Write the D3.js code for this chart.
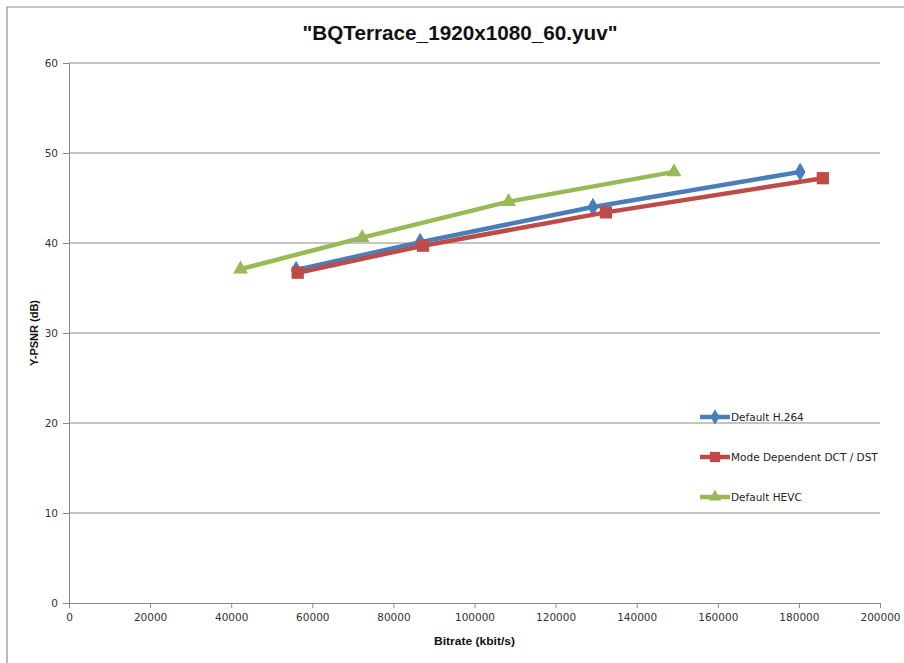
<!DOCTYPE html>
<html>
<head>
<meta charset="utf-8">
<script src="https://cdn.jsdelivr.net/npm/d3@7"></script>
<style>
  body { margin: 0; background: #fff; }
  svg { display: block; }
</style>
</head>
<body>
<svg id="chart"></svg>
<script>
// bitrate (kbit/s) and Y-PSNR (dB)
const h264Rate = [56000, 86600, 129200, 180300];
const h264Psnr = [37.0, 40.1, 44.0, 47.9];
const mddtRate = [56400, 87300, 132400, 185900];
const mddtPsnr = [36.7, 39.7, 43.4, 47.2];
const hevcRate = [42300, 72300, 108400, 149200];
const hevcPsnr = [37.1, 40.6, 44.6, 47.9];
const seriesNames = ['Default H.264', 'Mode Dependent DCT / DST', 'Default HEVC'];
const xTicks = [0, 20000, 40000, 60000, 80000, 100000, 120000, 140000, 160000, 180000, 200000];
const yTicks = [0, 10, 20, 30, 40, 50, 60];

const width = 904, height = 663;
const margin = { top: 63, right: 24, bottom: 60, left: 69 };

const svg = d3.select('#chart').attr('width', width).attr('height', height);

// outer chart frame (cropped on right/bottom in the original)
svg.append('path')
    .attr('d', `M7,${height} V7 H${width}`)
    .attr('fill', 'none')
    .attr('stroke', '#8c8c8c')
    .attr('stroke-width', 1.2);

const x = d3.scaleLinear().domain([0, 200000]).range([margin.left, width - margin.right]);
const y = d3.scaleLinear().domain([0, 60]).range([height - margin.bottom, margin.top]);

const gridColor = '#8a8a8a';
const tickFont = '"DejaVu Sans", Verdana, sans-serif';
const labelFont = '"Liberation Sans Narrow", "Arial Narrow", "Liberation Sans", sans-serif';

// horizontal gridlines
svg.append('g')
    .selectAll('line')
    .data(yTicks.filter(d => d > 0))
    .enter().append('line')
    .attr('x1', x(0)).attr('x2', x(200000))
    .attr('y1', d => y(d)).attr('y2', d => y(d))
    .attr('stroke', gridColor).attr('stroke-width', 1);

// axes
const yAxis = svg.append('g')
    .attr('transform', `translate(${x(0)},0)`)
    .call(d3.axisLeft(y).tickValues(yTicks).tickSize(6).tickPadding(5));
const xAxis = svg.append('g')
    .attr('transform', `translate(0,${y(0)})`)
    .call(d3.axisBottom(x).tickValues(xTicks).tickFormat(d3.format('d')).tickSize(5).tickPadding(6));

[yAxis, xAxis].forEach(g => {
    g.select('.domain').attr('stroke', gridColor);
    g.selectAll('.tick line').attr('stroke', gridColor);
    g.selectAll('.tick text')
        .attr('fill', '#333')
        .style('font-family', tickFont)
        .style('font-size', '10.5px');
});

// title
svg.append('text')
    .attr('x', 460).attr('y', 40)
    .attr('text-anchor', 'middle')
    .attr('textLength', 315)
    .attr('lengthAdjust', 'spacingAndGlyphs')
    .style('font-family', labelFont)
    .style('font-weight', 'bold')
    .style('font-size', '21px')
    .attr('fill', '#111')
    .text('"BQTerrace_1920x1080_60.yuv"');

// axis titles
svg.append('text')
    .attr('x', x(100000)).attr('y', 645)
    .attr('text-anchor', 'middle')
    .attr('textLength', 81)
    .attr('lengthAdjust', 'spacingAndGlyphs')
    .style('font-family', labelFont)
    .style('font-weight', 'bold')
    .style('font-size', '11px')
    .attr('fill', '#111')
    .text('Bitrate (kbit/s)');

svg.append('text')
    .attr('transform', `translate(38,${y(30)}) rotate(-90)`)
    .attr('text-anchor', 'middle')
    .attr('textLength', 66)
    .attr('lengthAdjust', 'spacingAndGlyphs')
    .style('font-family', labelFont)
    .style('font-weight', 'bold')
    .style('font-size', '11px')
    .attr('fill', '#111')
    .text('Y-PSNR (dB)');

const series = [
    { name: seriesNames[0], rate: h264Rate, psnr: h264Psnr, color: '#4a7ebb', marker: d3.symbolDiamond, size: 100 },
    { name: seriesNames[1], rate: mddtRate, psnr: mddtPsnr, color: '#be4b48', marker: d3.symbolSquare, size: 150 },
    { name: seriesNames[2], rate: hevcRate, psnr: hevcPsnr, color: '#98b954', marker: d3.symbolTriangle, size: 95 }
];

const line = d3.line().x(d => x(d[0])).y(d => y(d[1]));

series.forEach(s => {
    const pts = s.rate.map((r, i) => [r, s.psnr[i]]);
    const g = svg.append('g');
    g.append('path')
        .datum(pts)
        .attr('d', line)
        .attr('fill', 'none')
        .attr('stroke', s.color)
        .attr('stroke-width', 4.5)
        .attr('stroke-linejoin', 'round');
    g.selectAll('path.marker')
        .data(pts)
        .enter().append('path')
        .attr('class', 'marker')
        .attr('d', d3.symbol().type(s.marker).size(s.size))
        .attr('transform', d => `translate(${x(d[0])},${y(d[1])})`)
        .attr('fill', s.color);
});

// legend
const legend = svg.append('g').attr('transform', 'translate(700,417)');
series.forEach((s, i) => {
    const row = legend.append('g').attr('transform', `translate(0,${i * 40})`);
    row.append('line')
        .attr('x1', 0).attr('x2', 30)
        .attr('stroke', s.color).attr('stroke-width', 4.5);
    row.append('path')
        .attr('d', d3.symbol().type(s.marker).size(s.size * 0.7))
        .attr('transform', 'translate(15,0)')
        .attr('fill', s.color);
    row.append('text')
        .attr('x', 31).attr('y', 4)
        .style('font-family', tickFont)
        .style('font-size', '10.5px')
        .attr('fill', '#222')
        .text(s.name);
});
</script>
</body>
</html>
